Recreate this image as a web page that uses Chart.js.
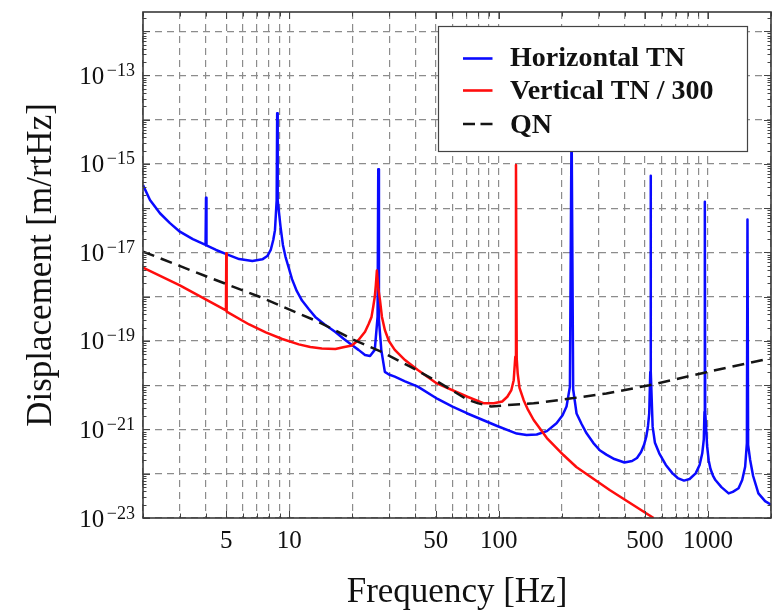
<!DOCTYPE html>
<html><head><meta charset="utf-8">
<script src="https://cdn.jsdelivr.net/npm/chart.js@4.4.0/dist/chart.umd.min.js"></script>
<style>html,body{margin:0;padding:0;background:#fff;}#wrap{width:779px;height:612px;position:relative;}</style>
</head><body><div id="wrap"><canvas id="c" width="779" height="612"></canvas></div>
<script>
// ---- data ----
const seriesNames = ['Horizontal TN', 'Vertical TN / 300', 'QN'];

const hFreq = [2.0, 2.16, 2.41, 2.69, 3.0, 3.46, 3.98, 4.0, 4.02, 4.47, 5.0, 5.76, 6.66, 7.43, 7.85, 8.15, 8.38, 8.54, 8.70, 8.75, 8.80, 9.08, 9.32, 9.59, 9.95, 10.3, 10.85, 11.5, 12.4, 13.3, 14.7, 16.6, 18.1, 19.9, 21.4, 23.0, 24.3, 25.6, 26.4, 26.6, 26.8, 27.5, 28.6, 29.9, 31.9, 35.7, 41.1, 51.1, 60.2, 70.9, 98.4, 122, 136, 152, 170, 189, 202, 211, 219, 223, 227, 235.6, 249, 263, 283, 304, 327, 357, 399, 434, 458, 479, 495, 508, 517, 524, 530, 532, 534, 544, 558, 585, 629, 677, 717, 768, 817, 873, 912, 939, 955, 962, 966, 970, 991, 1009, 1028, 1056, 1085, 1159, 1255, 1314, 1400, 1457, 1505, 1534, 1544, 1555, 1590, 1643, 1741, 1874, 2000];
const hDisp = [3.35e-16, 1.54e-16, 7.7e-17, 4.6e-17, 2.95e-17, 2.0e-17, 1.48e-17, 1.73e-16, 1.45e-17, 1.14e-17, 9.2e-18, 7.1e-18, 6.4e-18, 7.0e-18, 8.3e-18, 1.14e-17, 1.92e-17, 3.2e-17, 1.5e-16, 1.4e-14, 1.5e-16, 3.8e-17, 1.48e-17, 8.0e-18, 4.4e-18, 2.5e-18, 1.35e-18, 8.2e-19, 5.2e-19, 3.5e-19, 2.4e-19, 1.6e-19, 1.14e-19, 8.1e-20, 6.3e-20, 4.8e-20, 4.6e-20, 6.3e-20, 3.5e-19, 7.6e-16, 3.0e-19, 6.3e-20, 2.0e-20, 1.75e-20, 1.56e-20, 1.22e-20, 9.3e-21, 4.9e-21, 3.3e-21, 2.3e-21, 1.2e-21, 8.1e-22, 7.5e-22, 7.7e-22, 9.2e-22, 1.38e-21, 2.1e-21, 3.3e-21, 9.3e-21, 1e-14, 8e-21, 2.3e-21, 1.33e-21, 8.2e-22, 5.0e-22, 3.4e-22, 2.7e-22, 2.15e-22, 1.8e-22, 1.94e-22, 2.27e-22, 3.1e-22, 4.5e-22, 7.1e-22, 1.2e-21, 2.3e-21, 2e-20, 5.4e-16, 2e-20, 1.16e-21, 5.0e-22, 2.9e-22, 1.58e-22, 1.02e-22, 8.0e-23, 7.0e-23, 7.6e-23, 1.02e-22, 1.58e-22, 2.9e-22, 6.0e-22, 2.5e-21, 1.4e-16, 2.5e-21, 4.1e-22, 1.94e-22, 1.28e-22, 9.1e-23, 7.2e-23, 5.0e-23, 3.6e-23, 3.9e-23, 4.7e-23, 7.2e-23, 1.44e-22, 4.9e-22, 5.6e-17, 4.5e-22, 2.05e-22, 8.9e-23, 3.6e-23, 2.4e-23, 2.0e-23];

const vFreq = [2.0, 3.0, 4.98, 5.0, 5.02, 6.43, 7.72, 9.25, 11.1, 12.6, 14.3, 16.6, 18.1, 19.9, 21.4, 23.0, 23.9, 24.7, 25.2, 25.6, 25.9, 26.2, 26.6, 27.1, 27.7, 28.6, 29.9, 31.9, 35.7, 41.1, 50.7, 70.9, 85.1, 94.8, 104, 110, 115, 118, 120.1, 121, 122, 123.3, 125.8, 131.7, 138, 147, 170, 204, 235, 339, 550];
const vDisp = [4.54e-18, 1.8e-18, 4.9e-19, 9.6e-18, 4.6e-19, 2.36e-19, 1.56e-19, 1.11e-19, 8.4e-20, 7.3e-20, 6.8e-20, 6.6e-20, 7.2e-20, 7.9e-20, 1.05e-19, 1.62e-19, 2.4e-19, 3.5e-19, 6.2e-19, 1.0e-18, 1.84e-18, 3.9e-18, 1.58e-18, 8.5e-19, 3.5e-19, 1.77e-19, 1.0e-19, 6.3e-20, 3.7e-20, 2.2e-20, 1.1e-20, 5.5e-21, 3.9e-21, 3.9e-21, 4.3e-21, 5.5e-21, 7.8e-21, 1.3e-20, 4.4e-20, 9.5e-16, 4.0e-20, 1.86e-20, 8.7e-21, 4.6e-21, 2.8e-21, 1.64e-21, 6.4e-22, 2.65e-22, 1.42e-22, 4.3e-23, 1.0e-23];

const qFreq = [2, 4, 7.2, 13.8, 20, 28, 38, 52, 70.9, 80, 92, 110, 147, 219, 327, 524, 973, 2000];
const qDisp = [1.05e-17, 2.9e-18, 1.0e-18, 2.7e-19, 1.1e-19, 5.5e-20, 2.6e-20, 1.15e-20, 4.7e-21, 3.9e-21, 3.3e-21, 3.55e-21, 3.9e-21, 5.0e-21, 6.5e-21, 1.0e-20, 1.95e-20, 4.1e-20];

const xGridValues = [2,3,4,5,6,7,8,9,10,20,30,40,50,60,70,80,90,100,200,300,400,500,600,700,800,900,1000,2000];
const xTickLabels = [5, 10, 50, 100, 500, 1000];
const yGridExponents = [-23,-22,-21,-20,-19,-18,-17,-16,-15,-14,-13,-12];
const yLabelExponents = [-23, -21, -19, -17, -15, -13];
const xTitle = 'Frequency [Hz]';
const yTitle = 'Displacement [m/rtHz]';

const pts = (fs, vs) => fs.map((f, i) => ({x: f, y: vs[i]}));

const BLUE = '#0a0aff', RED = '#ff0d0d', BLACK = '#151515';
const SERIF = '"Liberation Serif", "Times New Roman", serif';

const decor = {
  id: 'decor',
  afterDraw(chart) {
    const {ctx, chartArea: a, scales: {x, y}} = chart;
    ctx.save();
    const seg = (x1, y1, x2, y2) => { ctx.beginPath(); ctx.moveTo(x1, y1); ctx.lineTo(x2, y2); ctx.stroke(); };
    ctx.strokeStyle = '#444'; ctx.lineWidth = 1; ctx.setLineDash([]);
    xGridValues.forEach(v => {
      const px = Math.round(x.getPixelForValue(v)) + 0.5;
      const len = xTickLabels.includes(v) ? 7 : 4.5;
      seg(px, a.bottom, px, a.bottom - len);
      seg(px, a.top, px, a.top + len);
    });
    yGridExponents.forEach(e => {
      let py = Math.round(y.getPixelForValue(Math.pow(10, e))) + 0.5;
      seg(a.left, py, a.left + 7, py); seg(a.right, py, a.right - 7, py);
      for (let m = 2; m <= 9; m++) {
        const v = m * Math.pow(10, e);
        if (v > y.max) break;
        py = Math.round(y.getPixelForValue(v)) + 0.5;
        seg(a.left, py, a.left + 3.5, py); seg(a.right, py, a.right - 3.5, py);
      }
    });
    // frame
    ctx.strokeStyle = '#3a3a3a'; ctx.lineWidth = 1.6;
    ctx.strokeRect(a.left, a.top, a.right - a.left, a.bottom - a.top);
    // y tick labels 10^e
    ctx.fillStyle = '#111';
    ctx.textBaseline = 'alphabetic';
    yLabelExponents.forEach(e => {
      const py = y.getPixelForValue(Math.pow(10, e));
      const ex = '\u2212' + Math.abs(e);
      ctx.font = '18px ' + SERIF; ctx.textAlign = 'right';
      const w = ctx.measureText(ex).width;
      const xr = a.left - 8;
      ctx.fillText(ex, xr, py + 0.5);
      ctx.font = '25px ' + SERIF;
      ctx.fillText('10', xr - w - 2.5, py + 8.5);
    });
    // legend
    const bx = 438.5, by = 26.5, bw = 309, bh = 125;
    ctx.fillStyle = '#fff'; ctx.fillRect(bx, by, bw, bh);
    ctx.strokeStyle = '#444'; ctx.lineWidth = 1.2; ctx.strokeRect(bx, by, bw, bh);
    const rows = [{c: BLUE, dash: [], ly: 58.5, ty: 65.7}, {c: RED, dash: [], ly: 90.5, ty: 99.3}, {c: BLACK, dash: [12, 5.5], ly: 124, ty: 132.7}];
    rows.forEach((r, i) => {
      ctx.strokeStyle = r.c; ctx.lineWidth = 2.6; ctx.setLineDash(r.dash);
      seg(463, r.ly, 492.5, r.ly);
      ctx.setLineDash([]);
      ctx.fillStyle = '#111'; ctx.font = 'bold 28px ' + SERIF; ctx.textAlign = 'left';
      ctx.fillText(seriesNames[i], 510, r.ty);
    });
    ctx.restore();
  }
};

const lineDs = (label, data, color, order, dash) => ({
  label, data, borderColor: color, backgroundColor: color, borderWidth: 2.5,
  borderDash: dash || [], pointRadius: 0, fill: false, order, tension: 0,
  borderJoinStyle: 'round', borderCapStyle: 'butt'
});

new Chart(document.getElementById('c'), {
  type: 'line',
  data: {
    datasets: [
      lineDs(seriesNames[2], pts(qFreq, qDisp), BLACK, 0, [12, 7]),
      lineDs(seriesNames[1], pts(vFreq, vDisp), RED, 1),
      lineDs(seriesNames[0], pts(hFreq, hDisp), BLUE, 2)
    ]
  },
  options: {
    responsive: false, animation: false, devicePixelRatio: 1,
    layout: {padding: {top: 12, right: 2, left: 0, bottom: 0}},
    plugins: {legend: {display: false}, tooltip: {enabled: false}},
    scales: {
      x: {
        type: 'logarithmic', min: 2, max: 2000,
        afterBuildTicks: s => { s.ticks = xGridValues.map(v => ({value: v})); },
        afterFit: s => { s.height = 94; },
        ticks: {
          autoSkip: false, maxRotation: 0, padding: 8, color: '#111',
          font: {family: SERIF, size: 25},
          callback: v => xTickLabels.includes(v) ? String(v) : ''
        },
        grid: {color: '#8c8c8c', lineWidth: 1.2, drawTicks: false},
        border: {display: false, dash: [7, 5]},
        title: {display: true, text: xTitle, color: '#111', font: {family: SERIF, size: 35, lineHeight: 1}, padding: {top: 0, bottom: 2}}
      },
      y: {
        type: 'logarithmic', min: 1e-23, max: 2.72e-12,
        afterBuildTicks: s => { s.ticks = yGridExponents.map(e => ({value: Math.pow(10, e)})); },
        afterFit: s => { s.width = 143; },
        ticks: {display: false},
        grid: {color: '#8c8c8c', lineWidth: 1.2, drawTicks: false},
        border: {display: false, dash: [7, 5]},
        title: {display: true, text: yTitle, color: '#111', font: {family: SERIF, size: 35, lineHeight: 1}, padding: {top: 24, bottom: 0}}
      }
    }
  },
  plugins: [decor]
});
</script>
</body></html>
